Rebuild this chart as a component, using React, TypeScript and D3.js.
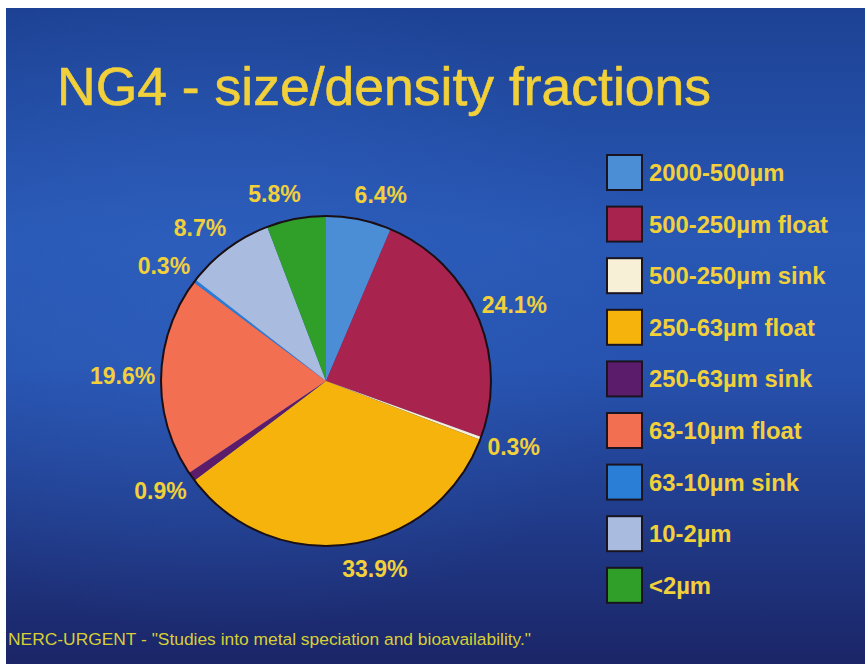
import React from "react";
import * as d3 from "d3";

const categories = [
  "2000-500µm",
  "500-250µm float",
  "500-250µm sink",
  "250-63µm float",
  "250-63µm sink",
  "63-10µm float",
  "63-10µm sink",
  "10-2µm",
  "<2µm",
];
const values = [6.4, 24.1, 0.3, 33.9, 0.9, 19.6, 0.3, 8.7, 5.8];
const colors = [
  "#4b8ed6",
  "#a8244f",
  "#f7efd6",
  "#f5b30c",
  "#5b1c6c",
  "#f26f52",
  "#2a7ed6",
  "#a9bce0",
  "#2f9f2a",
];

const W = 865;
const H = 664;
const FONT = "'Liberation Sans', Arial, Helvetica, sans-serif";
const YELLOW = "#f1d03a";
const LABEL_SIZE = 23;

// rough width of a bold label, used to push it clear of the pie
const labelWidth = (s: string) =>
  d3.sum(s.split(""), (ch) => (ch === "." ? 0.278 : ch === "%" ? 0.889 : 0.556)) *
  LABEL_SIZE;

const PieChart = ({ cx, cy, r, labelR }) => {
  const pie = d3
    .pie<number>()
    .sort(null)
    .value((d) => d);
  const arcs = pie(values);
  const arc = d3.arc<d3.PieArcDatum<number>>().innerRadius(0).outerRadius(r);
  const labelArc = d3
    .arc<d3.PieArcDatum<number>>()
    .innerRadius(labelR)
    .outerRadius(labelR);

  return (
    <g transform={`translate(${cx}, ${cy})`}>
      {arcs.map((a, i) => (
        <path key={i} d={arc(a) || ""} fill={colors[i]} />
      ))}
      <circle r={r} fill="none" stroke="#1a0f14" strokeWidth={2} />
      {arcs.map((a, i) => {
        const txt = values[i].toFixed(1) + "%";
        const [px, py] = labelArc.centroid(a);
        const mid = (a.startAngle + a.endAngle) / 2;
        const x = px + Math.sign(Math.sin(mid)) * labelWidth(txt) * 0.36;
        const y = py - Math.cos(mid) * 10;
        return (
          <text
            key={i}
            x={x}
            y={y}
            textAnchor="middle"
            dominantBaseline="central"
            fill={YELLOW}
            fontSize={LABEL_SIZE}
            fontWeight="bold"
            fontFamily={FONT}
          >
            {txt}
          </text>
        );
      })}
    </g>
  );
};

const Legend = ({ x, y, step, size }) => {
  const pos = d3
    .scaleBand()
    .domain(categories)
    .range([y, y + step * categories.length]);
  return (
    <g>
      {categories.map((c, i) => (
        <g key={c} transform={`translate(${x}, ${pos(c)})`}>
          <rect
            width={size}
            height={size}
            fill={colors[i]}
            stroke="#1a1420"
            strokeWidth={2}
          />
          <text
            x={size + 7}
            y={size / 2}
            dominantBaseline="central"
            fill={YELLOW}
            fontSize={23.8}
            fontWeight="bold"
            fontFamily={FONT}
          >
            {c}
          </text>
        </g>
      ))}
    </g>
  );
};

const App = () => {
  return (
    <svg
      width={W}
      height={H}
      style={{ position: "absolute", left: 0, top: 0, display: "block" }}
    >
      <defs>
        <linearGradient id="bg" x1="0" y1="0" x2="0" y2="1">
          <stop offset="0%" stopColor="#1d4294" />
          <stop offset="35%" stopColor="#2857b4" />
          <stop offset="55%" stopColor="#2652ae" />
          <stop offset="100%" stopColor="#1b2567" />
        </linearGradient>
        <radialGradient id="glow" cx="0.25" cy="0.45" r="0.5">
          <stop offset="0%" stopColor="#3468c8" stopOpacity={0.45} />
          <stop offset="100%" stopColor="#3468c8" stopOpacity={0} />
        </radialGradient>
      </defs>
      <rect width={W} height={H} fill="#ffffff" />
      <rect x={6} y={8} width={W - 6} height={H - 8} fill="url(#bg)" />
      <rect x={6} y={8} width={W - 6} height={H - 8} fill="url(#glow)" />

      <text
        x={57}
        y={105}
        fill={YELLOW}
        fontSize={53.5}
        fontFamily={FONT}
        stroke={YELLOW}
        strokeWidth={0.6}
      >
        NG4 - size/density fractions
      </text>

      <PieChart cx={326} cy={381} r={165} labelR={180} />
      <Legend x={607} y={155} step={51.6} size={35} />

      <text
        x={8}
        y={645}
        fill="#d6d036"
        fontSize={17.4}
        fontFamily={FONT}
      >
        NERC-URGENT - "Studies into metal speciation and bioavailability."
      </text>
    </svg>
  );
};

export default App;
